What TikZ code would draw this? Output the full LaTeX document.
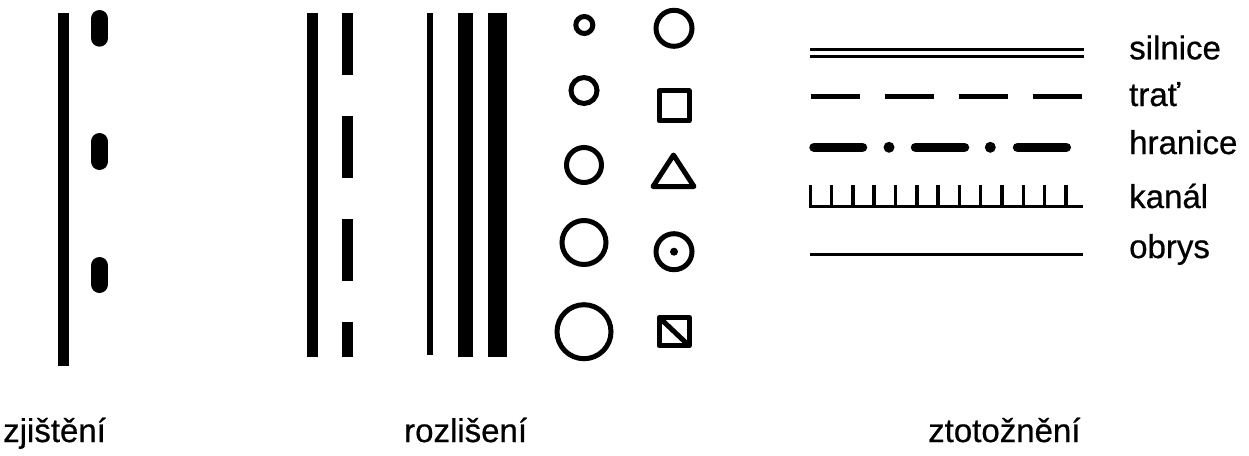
\documentclass[tikz,border=0pt]{standalone}
\usepackage{fontspec}
\setmainfont{Liberation Sans}
\newfontfamily\lblfont[FakeBold=0.6]{Liberation Sans}
\begin{document}
\begin{tikzpicture}[x=1pt,y=-1pt,
  lbl/.style={anchor=base west,inner sep=0pt,font=\lblfont\fontsize{33}{40}\selectfont},
  sym/.style={line width=5pt},
  rline/.style={line width=3pt}]
\useasboundingbox (0,0) rectangle (1249,455);
% zjisteni
\draw[line width=11pt] (63.5,13) -- (63.5,366);
\draw[line width=17pt,line cap=round] (99.5,18.5) -- (99.5,38.2);
\draw[line width=17pt,line cap=round] (99.5,141.5) -- (99.5,161.5);
\draw[line width=17pt,line cap=round] (99.5,265.5) -- (99.5,284.5);
% rozliseni lines
\draw[line width=11pt] (312.8,13) -- (312.8,357);
\draw[line width=11pt,dash pattern=on 62pt off 41pt] (347,13) -- (347,357);
\draw[line width=6pt] (429.7,13) -- (429.7,355);
\draw[line width=15pt] (465,13) -- (465,357);
\draw[line width=19pt] (497.7,13) -- (497.7,357);
% circles
\draw[sym] (584.3,25) circle[radius=8.5];
\draw[sym] (584,90.5) circle[radius=13];
\draw[sym] (584,165) circle[radius=17.5];
\draw[sym] (584,242.5) circle[radius=22];
\draw[sym] (584,331.7) circle[radius=27];
% shapes
\draw[sym] (674,28.3) circle[radius=18];
\draw[sym,line join=round] (659,90.8) rectangle (689,120.8);
\draw[sym,line join=round] (673.5,155) -- (694,186.5) -- (653,186.5) -- cycle;
\draw[sym] (674,251.7) circle[radius=18];
\fill (674,251.7) circle[radius=4];
\draw[sym,line join=round] (659.2,317.5) rectangle (689.2,345.8);
\draw[sym] (659.2,317.5) -- (689.2,345.8);
% ztotozneni lines
\draw[rline] (810,49) -- (1084,49);
\draw[rline] (810,56.7) -- (1084,56.7);
\draw[line width=5pt,dash pattern=on 49.3pt off 24.7pt] (810.7,96.7) -- (1082,96.7);
\draw[line width=9.5pt,line cap=round] (814,147.3) -- (862.5,147.3);
\fill (889,147.3) circle[radius=5.5];
\draw[line width=9.5pt,line cap=round] (915.5,147.3) -- (964.5,147.3);
\fill (990.3,147.3) circle[radius=5.5];
\draw[line width=9.5pt,line cap=round] (1017.5,147.3) -- (1066.3,147.3);
\draw[rline] (809,206.7) -- (1083.3,206.7);
\foreach \i in {0,...,12}
  \draw[line width=3.5pt] (810.3+21.3*\i,185) -- (810.3+21.3*\i,206.7);
\draw[rline] (810,254.3) -- (1083,254.3);
% labels
\node[lbl] (silnice) at (1129,59.3) {silnice};
\node[lbl] (trat) at (1129,106) {trať};
\node[lbl] (hranice) at (1129,154) {hranice};
\node[lbl] (kanal) at (1129,208) {kanál};
\node[lbl] (obrys) at (1129,258) {obrys};
\node[lbl] (zjisteni) at (3,442) {zjištění};
\node[lbl] (rozliseni) at (404,442) {rozlišení};
\node[lbl] (ztotozneni) at (928,442) {ztotožnění};
\end{tikzpicture}
\end{document}
